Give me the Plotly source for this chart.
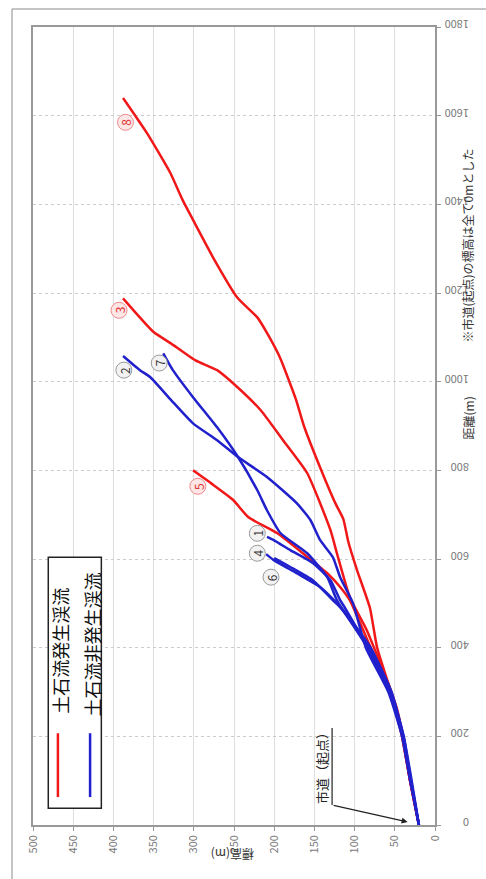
import plotly.graph_objects as go

# ---- data: distance (m) / elevation (m) for each stream ----
d8 = [0, 100, 200, 260, 330, 400, 490, 575, 640, 690, 726, 807, 900, 960, 1055, 1110, 1145, 1190, 1280, 1365, 1410, 1470, 1560, 1640]
e8 = [20, 31, 40, 47, 60, 72, 81, 97, 108, 114, 124, 143, 163, 173, 193, 209, 221, 246, 276, 301, 314, 329, 358, 388]

d3 = [0, 100, 200, 260, 327, 440, 514, 613, 665, 794, 868, 936, 988, 1026, 1048, 1087, 1112, 1188]
e3 = [20, 31, 41, 48, 60, 85, 106, 122, 130, 159, 189, 217, 246, 271, 298, 329, 350, 388]

d5 = [0, 100, 200, 300, 400, 507, 537, 568, 605, 658, 694, 733, 770, 800]
e5 = [20, 31, 41, 56, 80, 106, 118, 134, 159, 196, 232, 251, 278, 301]

d7 = [0, 100, 200, 300, 400, 507, 559, 613, 658, 710, 755, 830, 897, 965, 1026, 1064]
e7 = [20, 30, 40, 57, 84, 122, 134, 159, 192, 209, 221, 245, 271, 301, 326, 338]

d2 = [0, 100, 200, 300, 400, 500, 559, 604, 643, 688, 726, 785, 830, 868, 906, 958, 1010, 1026, 1058]
e2 = [20, 31, 41, 58, 86, 102, 118, 127, 143, 155, 172, 209, 245, 271, 301, 328, 354, 367, 388]

d1 = [0, 100, 200, 300, 400, 490, 507, 552, 591, 620, 643, 650]
e1 = [20, 30, 40, 56, 84, 112, 118, 130, 152, 180, 201, 209]

d4 = [0, 100, 200, 300, 400, 480, 500, 537, 568, 598, 611]
e4 = [20, 30, 39, 55, 82, 113, 122, 143, 172, 201, 210]

d6 = [0, 100, 200, 300, 400, 480, 492, 507, 552, 582, 602]
e6 = [20, 29, 39, 54, 80, 112, 118, 127, 152, 180, 200]

# circled number labels: (label, elevation, distance, is_debris_flow)
lab_text = ["8", "3", "2", "7", "5", "1", "4", "6"]
lab_elev = [385, 393, 387, 343, 295, 221, 221, 204]
lab_dist = [1585, 1161, 1026, 1042, 764, 658, 613, 559]
lab_red = [True, True, False, False, True, False, False, False]

elev_ticks = list(range(0, 501, 50))
dist_ticks = list(range(0, 1801, 200))

RED = "#f01818"
BLUE = "#2020cc"
FONT = "Noto Sans CJK JP"

W, H = 486, 879
L, R, T, B = 33, 51, 27, 54
PW, PH = W - L - R, H - T - B


def px(xp, yp):
    return (xp - L) / PW, (H - B - yp) / PH


fig = go.Figure()

red_sets = [(d8, e8), (d3, e3), (d5, e5)]
blue_sets = [(d7, e7), (d2, e2), (d1, e1), (d4, e4), (d6, e6)]
for d, e in red_sets:
    fig.add_trace(go.Scatter(x=e, y=d, mode="lines", line=dict(color=RED, width=2.5, shape="spline", smoothing=0.5),
                             hoverinfo="skip", showlegend=False))
for d, e in blue_sets:
    fig.add_trace(go.Scatter(x=e, y=d, mode="lines", line=dict(color=BLUE, width=2.5, shape="spline", smoothing=0.5),
                             hoverinfo="skip", showlegend=False))

# circles for labels
fig.add_trace(go.Scatter(
    x=lab_elev, y=lab_dist, mode="markers",
    marker=dict(size=16, color=["#fde6e6" if r else "#f2f2f2" for r in lab_red],
                line=dict(color=["#f08a8a" if r else "#9a9a9a" for r in lab_red], width=1)),
    hoverinfo="skip", showlegend=False))

annotations = []
for t, e, d, r in zip(lab_text, lab_elev, lab_dist, lab_red):
    annotations.append(dict(x=e, y=d, xref="x", yref="y", text=t, showarrow=False, textangle=-90,
                            font=dict(family=FONT, size=12, color="#e03030" if r else "#333333")))

# legend (drawn manually, rotated)
shapes = []
shapes.append(dict(type="rect", xref="x", yref="y", x0=481, x1=415, y0=38, y1=604,
                   line=dict(color="#222222", width=1.5), fillcolor="white", layer="above"))
shapes.append(dict(type="line", xref="x", yref="y", x0=469, x1=469, y0=63, y1=207,
                   line=dict(color=RED, width=2.5)))
shapes.append(dict(type="line", xref="x", yref="y", x0=429, x1=429, y0=63, y1=207,
                   line=dict(color=BLUE, width=2.5)))
annotations.append(dict(x=466, y=394, xref="x", yref="y", text="土石流発生渓流", showarrow=False, textangle=-90,
                        font=dict(family=FONT, size=18, color="#111111")))
annotations.append(dict(x=426, y=406, xref="x", yref="y", text="土石流非発生渓流", showarrow=False, textangle=-90,
                        font=dict(family=FONT, size=18, color="#111111")))

# 市道（起点） callout
annotations.append(dict(x=142, y=135, xref="x", yref="y", text="市道（起点）", showarrow=False, textangle=-90,
                        font=dict(family=FONT, size=13, color="#222222")))
shapes.append(dict(type="line", xref="x", yref="y", x0=128, x1=128, y0=45, y1=219,
                   line=dict(color="#222222", width=1.2)))
annotations.append(dict(x=34, y=7, xref="x", yref="y", ax=128, ay=45, axref="x", ayref="y", text="",
                        showarrow=True, arrowhead=2, arrowsize=1, arrowwidth=1.2, arrowcolor="#222222"))

# axis titles and note
x0, y0 = px(233, 865)
annotations.append(dict(x=x0, y=y0, xref="paper", yref="paper", text="標高(m)", showarrow=False, textangle=180,
                        font=dict(family=FONT, size=12, color="#333333")))
x0, y0 = px(478, 418)
annotations.append(dict(x=x0, y=y0, xref="paper", yref="paper", text="距離(m)", showarrow=False, textangle=-90,
                        font=dict(family=FONT, size=12, color="#333333")))
x0, y0 = px(477, 147)
annotations.append(dict(x=x0, y=y0, xref="paper", yref="paper", text="※市道(起点)の標高は全て0mとした",
                        showarrow=False, textangle=-90, font=dict(family=FONT, size=12, color="#333333")))

# outer frame
fx0, fy0 = px(12, 9)
fx1, fy1 = px(520, 920)
shapes.append(dict(type="rect", xref="paper", yref="paper", x0=fx0, x1=fx1, y0=fy1, y1=fy0,
                   line=dict(color="#8a8a8a", width=1), layer="below"))

fig.update_layout(
    width=W, height=H,
    margin=dict(l=L, r=R, t=T, b=B, autoexpand=False),
    paper_bgcolor="white", plot_bgcolor="white",
    showlegend=False,
    shapes=shapes, annotations=annotations,
    xaxis=dict(range=[500, 0], tickvals=elev_ticks, ticktext=[str(v) for v in elev_ticks],
               tickangle=-90, showgrid=True, gridcolor="#dedede", gridwidth=1,
               showline=True, linecolor="#999999", linewidth=1.5, mirror=True,
               ticks="outside", ticklen=4, tickcolor="#999999", zeroline=False,
               tickfont=dict(family=FONT, size=11, color="#777777")),
    yaxis=dict(range=[0, 1800], side="right", tickvals=dist_ticks, ticktext=[str(v) for v in dist_ticks],
               tickangle=180, ticklabelstandoff=26, showgrid=True, gridcolor="#cccccc", gridwidth=1, griddash="dot",
               showline=True, linecolor="#999999", linewidth=1.5, mirror=True,
               ticks="outside", ticklen=4, tickcolor="#999999", zeroline=False,
               tickfont=dict(family=FONT, size=11, color="#777777")),
)

fig.write_html("out.html", config={"displayModeBar": False},
               post_script="document.body.style.margin='0';document.body.style.overflow='hidden';")
